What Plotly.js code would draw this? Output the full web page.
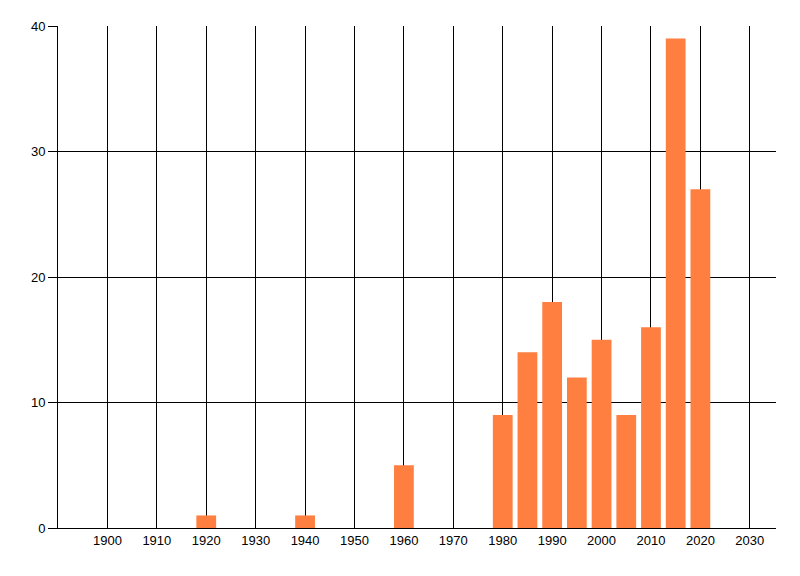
<!DOCTYPE html>
<html>
<head>
<meta charset="utf-8">
<script src="https://cdn.plot.ly/plotly-3.0.1.min.js"></script>
<style>
html,body{margin:0;padding:0;background:#fff;}
#chart{width:800px;height:576px;}
</style>
</head>
<body>
<div id="chart"></div>
<script>
const years = [1920, 1940, 1960, 1980, 1985, 1990, 1995, 2000, 2005, 2010, 2015, 2020];
const counts = [1, 1, 5, 9, 14, 18, 12, 15, 9, 16, 39, 27];
const xTickValues = [1900, 1910, 1920, 1930, 1940, 1950, 1960, 1970, 1980, 1990, 2000, 2010, 2020, 2030];
const yTickValues = [0, 10, 20, 30, 40];

const tickFont = {family: '"Liberation Sans Narrow", "Liberation Sans", Arial, sans-serif', size: 13, color: '#000'};

const trace = {
  type: 'bar',
  x: years,
  y: counts,
  width: 4,
  marker: {color: '#FF7F40', line: {width: 0}},
  hoverinfo: 'x+y'
};

const layout = {
  width: 800,
  height: 576,
  margin: {l: 58, r: 24, t: 26, b: 48},
  paper_bgcolor: '#fff',
  plot_bgcolor: '#fff',
  showlegend: false,
  xaxis: {
    range: [1890, 2035.3],
    tickmode: 'array',
    tickvals: xTickValues,
    ticktext: xTickValues.map(String),
    showgrid: true,
    gridcolor: '#000',
    gridwidth: 1,
    showline: true,
    linecolor: '#000',
    linewidth: 1,
    ticks: '',
    zeroline: false,
    tickfont: tickFont,
    fixedrange: true
  },
  yaxis: {
    range: [0, 40],
    tickmode: 'array',
    tickvals: yTickValues,
    ticktext: yTickValues.map(String),
    showgrid: true,
    gridcolor: '#000',
    gridwidth: 1,
    showline: true,
    linecolor: '#000',
    linewidth: 1,
    ticks: 'outside',
    ticklen: 9,
    tickcolor: '#000',
    tickwidth: 1,
    zeroline: false,
    tickfont: tickFont,
    fixedrange: true
  }
};

Plotly.newPlot('chart', [trace], layout, {displayModeBar: false, staticPlot: true});
</script>
</body>
</html>
